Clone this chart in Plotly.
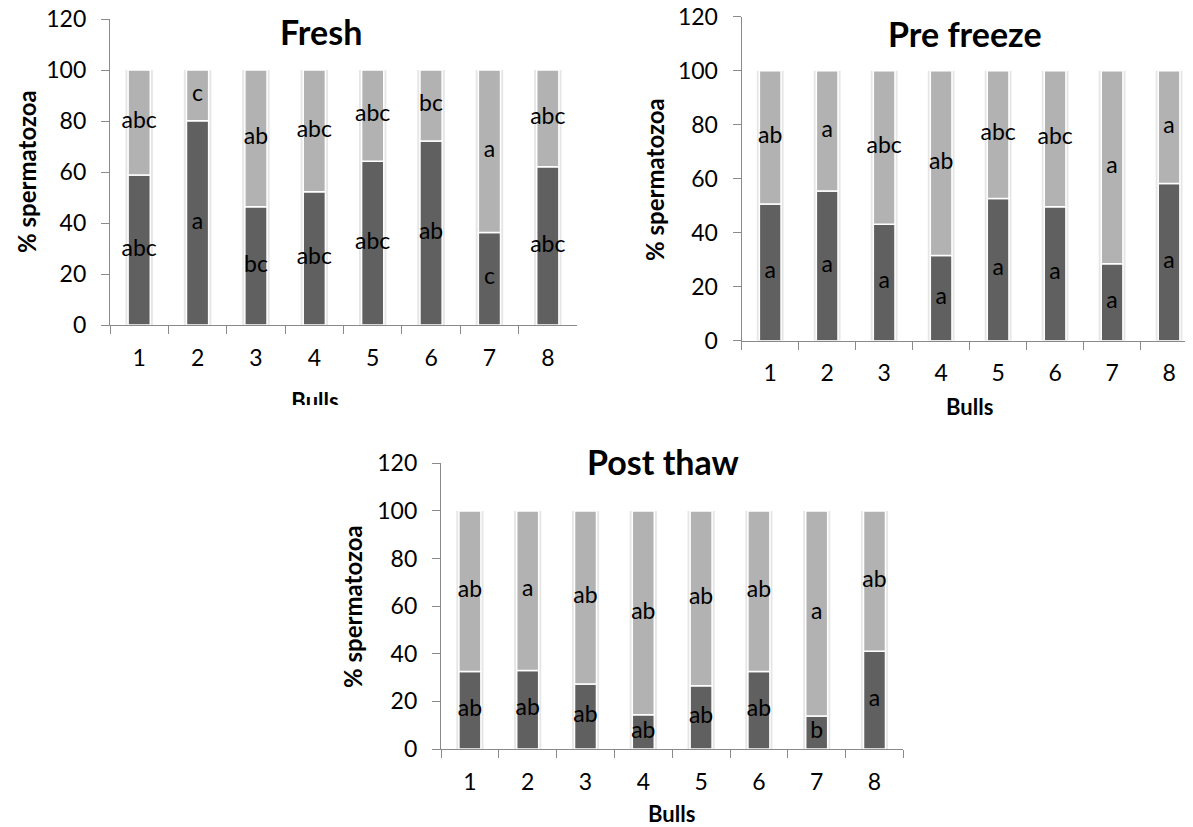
import plotly.graph_objects as go

# The page body adds an 8px margin, so the figure is 8px smaller than the window
OFF = 8
W, H = 1193 - OFF, 827 - OFF

bulls = ["1", "2", "3", "4", "5", "6", "7", "8"]

fresh_dark = [58.8, 80.1, 46.4, 52.3, 64.2, 72.2, 36.3, 62.1]
fresh_light = [41.2, 19.9, 53.6, 47.7, 35.8, 27.8, 63.7, 37.9]
fresh_dark_lbl = ["abc", "a", "bc", "abc", "abc", "ab", "c", "abc"]
fresh_light_lbl = ["abc", "c", "ab", "abc", "abc", "bc", "a", "abc"]

pre_dark = [50.6, 55.4, 43.1, 31.6, 52.7, 49.6, 28.5, 58.2]
pre_light = [49.4, 44.6, 56.9, 68.4, 47.3, 50.4, 71.5, 41.8]
pre_dark_lbl = ["a", "a", "a", "a", "a", "a", "a", "a"]
pre_light_lbl = ["ab", "a", "abc", "ab", "abc", "abc", "a", "a"]

post_dark = [32.6, 33.0, 27.3, 14.4, 26.6, 32.6, 13.9, 41.1]
post_light = [67.4, 67.0, 72.7, 85.6, 73.4, 67.4, 86.1, 58.9]
post_dark_lbl = ["ab", "ab", "ab", "ab", "ab", "ab", "b", "a"]
post_light_lbl = ["ab", "a", "ab", "ab", "ab", "ab", "a", "ab"]

titles = ["Fresh", "Pre freeze", "Post thaw"]
x_title = "Bulls"
y_title = "% spermatozoa"
y_ticks = [0, 20, 40, 60, 80, 100, 120]

DARK = "#606060"
LIGHT = "#b2b2b2"
SHADOW = "#e6e6e6"
AXIS = "#8a8a8a"
FONT = "Lato"

fig = go.Figure()

panels = [
    (fresh_dark, fresh_light, fresh_dark_lbl, fresh_light_lbl, "x", "y"),
    (pre_dark, pre_light, pre_dark_lbl, pre_light_lbl, "x2", "y2"),
    (post_dark, post_light, post_dark_lbl, post_light_lbl, "x3", "y3"),
]

for dark, light, dl, ll, xa, ya in panels:
    total = [d + l for d, l in zip(dark, light)]
    fig.add_trace(go.Bar(x=bulls, y=total, base=0, width=0.47,
                         marker=dict(color=SHADOW, line=dict(width=0)),
                         xaxis=xa, yaxis=ya, hoverinfo="skip", showlegend=False))
    fig.add_trace(go.Bar(x=bulls, y=dark, base=0, width=0.38,
                         marker=dict(color=DARK, line=dict(color="white", width=1.5)),
                         xaxis=xa, yaxis=ya, showlegend=False))
    fig.add_trace(go.Bar(x=bulls, y=light, base=dark, width=0.38,
                         marker=dict(color=LIGHT, line=dict(color="white", width=1.5)),
                         xaxis=xa, yaxis=ya, showlegend=False))
    fig.add_trace(go.Scatter(x=bulls, y=[d / 2 for d in dark], mode="text", text=dl,
                             textfont=dict(family=FONT, size=23, color="black"),
                             xaxis=xa, yaxis=ya, showlegend=False, hoverinfo="skip"))
    fig.add_trace(go.Scatter(x=bulls, y=[d + l / 2 for d, l in zip(dark, light)], mode="text",
                             text=ll, textfont=dict(family=FONT, size=23, color="black"),
                             xaxis=xa, yaxis=ya, showlegend=False, hoverinfo="skip"))

def px_x(v):
    return (v - OFF) / W

def px_y(v):
    return 1 - (v - OFF) / H

def xaxis_cfg(dom, rng, anchor):
    return dict(domain=dom, range=rng, type="category", anchor=anchor, automargin=False,
                showline=True, linecolor=AXIS, linewidth=1.3,
                ticks="outside", tickson="boundaries", ticklen=8, tickcolor=AXIS, tickwidth=1.3,
                tickfont=dict(family=FONT, size=23, color="black"), ticklabeloverflow="allow",
                ticklabelstandoff=12, showgrid=False, zeroline=False, fixedrange=True)

def yaxis_cfg(dom, anchor):
    return dict(domain=dom, range=[0, 120], tickvals=y_ticks, anchor=anchor, automargin=False,
                showline=True, linecolor=AXIS, linewidth=1.3,
                ticks="outside", ticklen=8, tickcolor=AXIS, tickwidth=1.3,
                tickfont=dict(family=FONT, size=23, color="black"), ticklabeloverflow="allow",
                ticklabelstandoff=10, showgrid=False, zeroline=False, fixedrange=True)

# Fresh panel "Bulls" title is clipped at the bottom of its chart box: draw it as a
# text trace in a small hidden axis box whose lower edge does the clipping.
fig.add_trace(go.Scatter(x=[0.5], y=[(405 - 403) / 35], mode="text", text=[x_title],
                         textposition="middle center", cliponaxis=True,
                         textfont=dict(family=FONT, size=22, color="black", weight="bold"),
                         xaxis="x4", yaxis="y4", showlegend=False, hoverinfo="skip"))

fig.update_layout(
    width=W, height=H, barmode="overlay",
    margin=dict(l=0, r=0, t=0, b=0, autoexpand=False),
    paper_bgcolor="white", plot_bgcolor="white",
    xaxis=xaxis_cfg([px_x(110), px_x(577)], [-0.5, 7.5], "y"),
    yaxis=yaxis_cfg([px_y(325), px_y(19)], "x"),
    xaxis2=xaxis_cfg([px_x(741.7), 1.0], [-0.5, 7.42], "y2"),
    yaxis2=yaxis_cfg([px_y(340.7), px_y(16.7)], "x2"),
    xaxis3=xaxis_cfg([px_x(441), px_x(903.4)], [-0.5, 7.5], "y3"),
    yaxis3=yaxis_cfg([px_y(749), px_y(463.3)], "x3"),
    xaxis4=dict(domain=[px_x(250), px_x(380)], range=[0, 1], visible=False, anchor="y4",
                fixedrange=True),
    yaxis4=dict(domain=[px_y(405), px_y(370)], range=[0, 1], visible=False, anchor="x4",
                fixedrange=True),
)

ann = []
# Titles
for t, x, y in [(titles[0], 321, 31), (titles[1], 965, 33), (titles[2], 663, 461)]:
    ann.append(dict(text="<b>%s</b>" % t, x=px_x(x), y=px_y(y), xref="paper", yref="paper",
                    xanchor="center", yanchor="middle", showarrow=False,
                    font=dict(family=FONT, size=34, color="black")))
# Y titles
for x, y in [(27, 172), (654, 180), (352, 606)]:
    ann.append(dict(text="<b>%s</b>" % y_title, x=px_x(x), y=px_y(y), xref="paper", yref="paper",
                    xanchor="center", yanchor="middle", showarrow=False, textangle=-90,
                    font=dict(family=FONT, size=24, color="black")))
# X titles (Pre freeze, Post thaw)
for x, y in [(969, 406), (672, 813)]:
    ann.append(dict(text="<b>%s</b>" % x_title, x=px_x(x), y=px_y(y), xref="paper", yref="paper",
                    xanchor="center", yanchor="middle", showarrow=False,
                    font=dict(family=FONT, size=22, color="black")))
fig.update_layout(annotations=ann)

fig.write_html("out.html")
